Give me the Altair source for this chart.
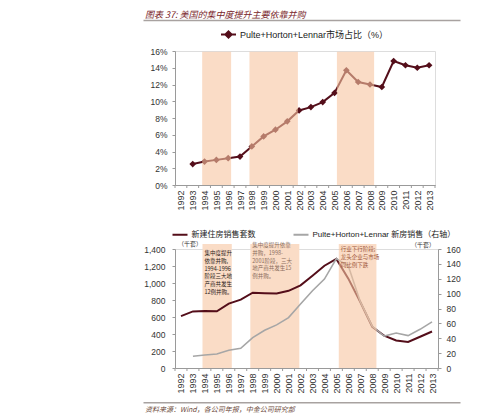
import altair as alt
import pandas as pd

# ---------------- data ----------------
years = list(range(1992, 2014))
share_years = list(range(1993, 2014))
share_pct = [2.5, 2.8, 3.0, 3.2, 3.4, 4.6, 5.8, 6.6, 7.6, 8.9, 9.3, 9.9, 11.0,
             13.7, 12.3, 12.0, 11.7, 14.8, 14.3, 14.0, 14.3]
new_home_sales = [610, 666, 670, 667, 757, 804, 886, 880, 877, 908, 973, 1086,
                  1203, 1283, 1051, 776, 485, 380, 323, 306, 368, 429]
big3_years = list(range(1993, 2014))
big3_sales = [15.8, 17.5, 18.9, 23.8, 26.5, 40.9, 50.8, 58.0, 67.8, 86.0, 103.8,
              119.5, 147.0, 137.0, 89.0, 56.0, 43.0, 47.0, 43.5, 52.0, 62.0]
band_start = [1993.8, 1997.8, 2005.2]
band_end = [1996.25, 2001.9, 2008.35]
ann_text = [
    "集中度提升\n依靠并购,\n1994-1996\n阶段三大地\n产商共发生\n12例并购。",
    "集中度提升依靠\n并购，1998-\n2001阶段，三大\n地产商共发生15\n例并购。",
    "行业下行阶段;\n龙头企业与市场\n同比例下跌",
]
ann_top = [1376, 1470, 1423]          # anchor value (thousand units) of first line
share_name = "Pulte+Horton+Lennar市场占比（%）"
sales_name = "新建住房销售套数"
big3_name = "Pulte+Horton+Lennar 新房销售（右轴）"
unit_label = "（千套）"
title_text = "图表 37: 美国的集中度提升主要依靠并购"
source_text = "资料来源：Wind，各公司年报，中金公司研究部"

# ---------------- style ----------------
FONT = "Liberation Sans, Arial, Noto Sans CJK SC"
CJK = "Noto Sans CJK SC"
DARK = "#540E1A"
GREY = "#A6A6A6"
PEACH = "#FADCC6"
PEACH_T = "#F7C5A0"
AXIS = "#9A9A9A"
ann_colors = ["#2B1B17", "#8C6E5E", "#A0583A"]

TW, TH = 260, 134
BW, BH = 263, 119

xscale = alt.Scale(domain=[years[0] - 0.5, years[-1] + 0.5], nice=False, zero=False)
XAXIS = alt.Axis(values=years, format="d", labelAngle=270, ticks=False, grid=False,
                 domainColor=AXIS, labelFont=FONT, labelFontSize=9, labelColor="#333333",
                 labelPadding=5, title=None, labelOverlap=False, labelFlush=False)


def xq(field):
    return alt.X(field, scale=xscale, axis=XAXIS)


band_df = pd.DataFrame({"start": band_start, "end": band_end})
bound_df = pd.DataFrame({"b": [y - 0.5 for y in years] + [years[-1] + 0.5]})

# ---------------- top chart ----------------
share_df = pd.DataFrame({"year": share_years, "pct": share_pct, "series": share_name})
ytop = alt.Scale(domain=[0, 16], nice=False)
YTOP_AXIS = alt.Axis(values=list(range(0, 17, 2)), labelExpr="datum.value + '%'", grid=False,
                     tickSize=3, tickColor=AXIS, domainColor=AXIS, labelFont=FONT,
                     labelFontSize=8.5, labelColor="#333333", labelPadding=5, title=None,
                     labelOverlap=False, labelFlush=False)

top_line = alt.Chart(share_df).mark_line(color=DARK, strokeWidth=2).encode(
    x=xq("year:Q"),
    y=alt.Y("pct:Q", scale=ytop, axis=YTOP_AXIS),
)
top_pts = alt.Chart(share_df).mark_point(shape="diamond", filled=True, size=45, opacity=1).encode(
    x=xq("year:Q"),
    y=alt.Y("pct:Q", scale=ytop, axis=YTOP_AXIS),
    color=alt.Color("series:N", scale=alt.Scale(domain=[share_name], range=[DARK]),
                    legend=alt.Legend(title=None, orient="none", legendX=45, legendY=-25,
                                      symbolType="M-1,0L1,0M0,-0.42L0.42,0L0,0.42L-0.42,0Z",
                                      symbolSize=225, symbolStrokeWidth=2,
                                      symbolStrokeColor=DARK, symbolFillColor=DARK,
                                      labelFont=FONT, labelFontSize=9, labelColor="#222222",
                                      labelOffset=3)),
)
top_bands = alt.Chart(band_df).mark_rect(color=PEACH_T, opacity=0.6).encode(
    x=xq("start:Q"), x2="end:Q",
    y=alt.YDatum(15.9, scale=ytop, axis=YTOP_AXIS), y2=alt.Y2Datum(0),
)
top_ticks = alt.Chart(bound_df).mark_rule(color=AXIS, strokeWidth=1).encode(
    x=xq("b:Q"), y=alt.value(TH), y2=alt.value(TH + 3))
title_df = pd.DataFrame({"t": [title_text]})
top_title = alt.Chart(title_df).mark_text(align="left", baseline="alphabetic", font=CJK,
                                          fontSize=9, fontStyle="italic", color="#7A1F2B").encode(
    x=alt.value(-30), y=alt.value(-33), text="t:N")
top_uline = alt.Chart(title_df).mark_rule(color="#A8A2A0", strokeWidth=1.5).encode(
    x=alt.value(-31.5), x2=alt.value(285.5), y=alt.value(-30.5))

top = alt.layer(top_line, top_pts, top_bands, top_ticks, top_title, top_uline).properties(
    width=TW, height=TH)

# ---------------- bottom chart ----------------
sales_df = pd.DataFrame({"year": years, "sales": new_home_sales, "series": sales_name})
big3_df = pd.DataFrame({"year": big3_years, "sales": big3_sales, "series": big3_name})
cscale = alt.Scale(domain=[sales_name, big3_name], range=[DARK, GREY])
blegend = alt.Legend(title=None, orient="none", direction="horizontal", legendX=-3.5, legendY=-23,
                     symbolType="stroke", symbolSize=225, symbolStrokeWidth=2,
                     labelFont=FONT, labelFontSize=8, labelColor="#222222",
                     columnPadding=34, labelOffset=3)
yL_dom = [0, 1400]


def yL():
    return alt.Scale(domain=yL_dom, nice=False)


left_axis = alt.Axis(values=list(range(0, 1401, 200)), format=",d", grid=False, tickSize=3,
                     tickColor=AXIS, domainColor=AXIS, labelFont=FONT, labelFontSize=8.5,
                     labelColor="#333333", labelPadding=7, title=unit_label, titleAngle=0,
                     titleX=14.5, titleY=-6, titleAlign="center", titleBaseline="middle",
                     titleFont=CJK, titleFontSize=6, titleFontWeight="normal", titleColor="#333333",
                     labelOverlap=False, labelFlush=False)
right_axis = alt.Axis(orient="right", values=list(range(0, 161, 20)), grid=False, tickSize=3,
                      tickColor=AXIS, domainColor=AXIS, labelFont=FONT, labelFontSize=8.5,
                      labelColor="#333333", labelPadding=5, title=unit_label, titleAngle=0,
                      titleX=-15.5, titleY=-5, titleAlign="center", titleBaseline="middle",
                      titleFont=CJK, titleFontSize=6, titleFontWeight="normal", titleColor="#333333",
                      labelOverlap=False, labelFlush=False)

b_bands12 = alt.Chart(band_df.iloc[:2]).mark_rect(color=PEACH).encode(
    x=xq("start:Q"), x2="end:Q",
    y=alt.YDatum(1460, scale=yL(), axis=None), y2=alt.Y2Datum(0))
b_dark = alt.Chart(sales_df).mark_line(strokeWidth=2).encode(
    x=xq("year:Q"),
    y=alt.Y("sales:Q", scale=yL(), axis=left_axis),
    color=alt.Color("series:N", scale=cscale, legend=blegend))
b_grey = alt.Chart(big3_df).mark_line(strokeWidth=1.6).encode(
    x=xq("year:Q"),
    y=alt.Y("sales:Q", scale=alt.Scale(domain=[0, 160], nice=False), axis=right_axis),
    color=alt.Color("series:N", scale=cscale, legend=blegend))
b_band3 = alt.Chart(band_df.iloc[2:]).mark_rect(color=PEACH_T, opacity=0.6).encode(
    x=xq("start:Q"), x2="end:Q",
    y=alt.YDatum(1460, scale=yL(), axis=None), y2=alt.Y2Datum(0))

ann_df = pd.DataFrame({"x": band_start, "y": ann_top, "text": ann_text})
ann_layers = []
for i in range(len(ann_text)):
    ann_layers.append(
        alt.Chart(ann_df.iloc[i:i + 1]).mark_text(
            align="left", baseline="top", dx=2, lineBreak="\n", lineHeight=7.8,
            font=CJK, fontSize=5.5, color=ann_colors[i]).encode(
            x=xq("x:Q"),
            y=alt.Y("y:Q", scale=yL(), axis=None),
            text="text:N"))

b_ticks = alt.Chart(bound_df).mark_rule(color=AXIS, strokeWidth=1).encode(
    x=xq("b:Q"), y=alt.value(BH), y2=alt.value(BH + 3))
src_df = pd.DataFrame({"t": [source_text]})
b_src = alt.Chart(src_df).mark_text(align="left", baseline="alphabetic", font=CJK, fontSize=7,
                                    fontStyle="italic", color="#6E4B3C").encode(
    x=alt.value(-30), y=alt.value(162.5), text="t:N")
b_sline = alt.Chart(src_df).mark_rule(color="#A8A2A0", strokeWidth=1.5).encode(
    x=alt.value(-31.5), x2=alt.value(285.5), y=alt.value(153.7))

bottom = alt.layer(b_bands12, b_dark, b_grey, b_band3, *ann_layers, b_ticks, b_src, b_sline
                   ).resolve_scale(y="independent").properties(width=BW, height=BH)

chart = alt.vconcat(top, bottom, spacing=64, bounds="flush").resolve_scale(
    color="independent").properties(
    padding={"left": 134, "top": 2, "right": 5, "bottom": 2}
).configure_view(stroke=None).configure(background="white")

chart.save("out.html", embed_options={"renderer": "svg", "actions": False})
